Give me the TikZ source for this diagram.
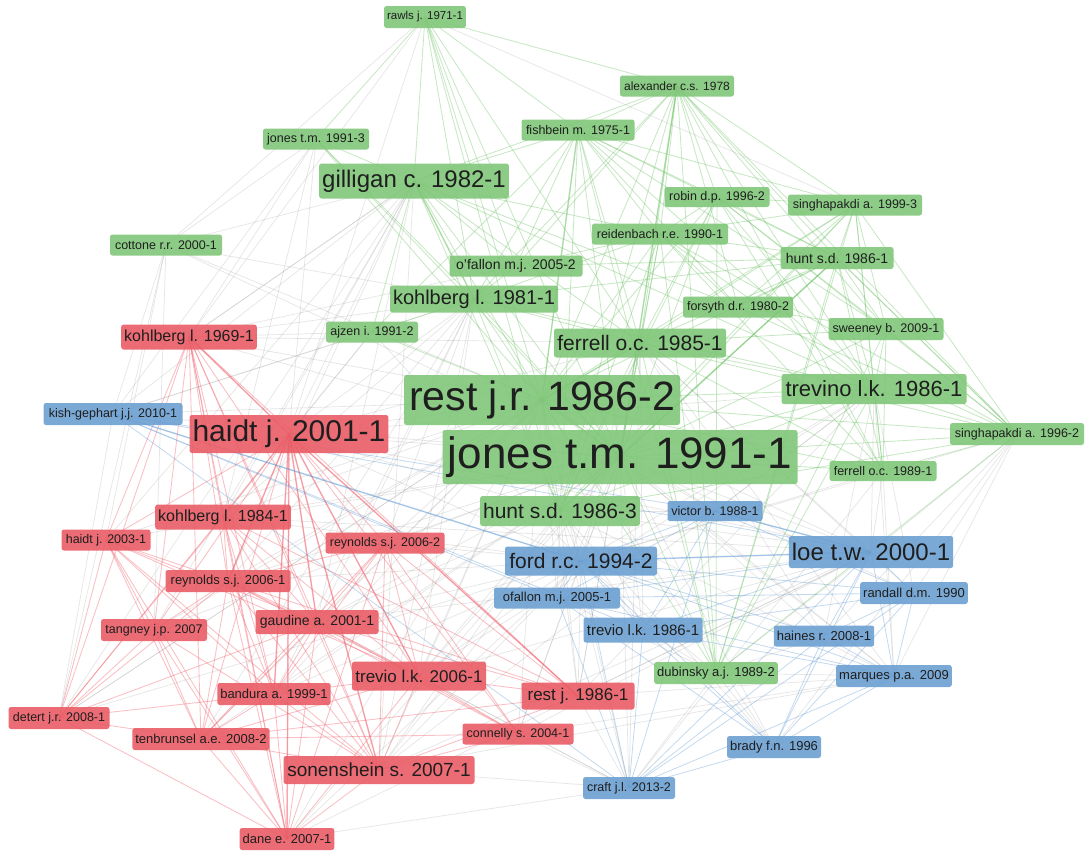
\documentclass[tikz,border=0pt]{standalone}
\usepackage{fontspec}
\setmainfont{Liberation Sans}
\usetikzlibrary{backgrounds}
\definecolor{gfill}{RGB}{128,199,121}
\definecolor{rfill}{RGB}{234,93,102}
\definecolor{bfill}{RGB}{108,160,210}
\definecolor{gline}{RGB}{112,196,104}
\definecolor{rline}{RGB}{240,96,108}
\definecolor{bline}{RGB}{88,148,210}
\definecolor{xline}{RGB}{140,140,140}
\definecolor{labtext}{RGB}{30,30,30}
\tikzset{
  box/.style={rounded corners=2.5pt, inner xsep=3pt, inner ysep=1pt, text=labtext, fill opacity=0.9, text opacity=1},
  gb/.style={box, fill=gfill},
  rb/.style={box, fill=rfill},
  bb/.style={box, fill=bfill},
  sz/.style n args={3}{font=\fontsize{#1}{#1}\selectfont, minimum width=#2, minimum height=#3},
  gedge/.style={draw=gline, line width=0.85pt, opacity=0.38},
  redge/.style={draw=rline, line width=0.85pt, opacity=0.4},
  bedge/.style={draw=bline, line width=0.8pt, opacity=0.35},
  xedge/.style={draw=xline, line width=0.7pt, opacity=0.22},
  heavy/.style={line width=1.5pt},
}
\begin{document}
\begin{tikzpicture}[x=1pt, y=-1pt]
\useasboundingbox (0,0) rectangle (1085,852);

% ---- green cluster ----
\node[gb, sz={11.5}{77}{22}] (rawls)  at (425,17)   {rawls j. 1971-1};
\node[gb, sz={12}{114}{21}]  (alex)   at (677,86)   {alexander c.s. 1978};
\node[gb, sz={12.5}{113}{21}](fish)   at (578,130)  {fishbein m. 1975-1};
\node[gb, sz={12.5}{106}{21}](jones3) at (316,139)  {jones t.m. 1991-3};
\node[gb, sz={24}{188}{35}]  (gill)   at (414,181)  {gilligan c. 1982-1};
\node[gb, sz={12.5}{105}{20}](robin)  at (717,197)  {robin d.p. 1996-2};
\node[gb, sz={12.5}{134}{21}](sing3)  at (855,205)  {singhapakdi a. 1999-3};
\node[gb, sz={12.5}{112}{21}](cott)   at (166,245)  {cottone r.r. 2000-1};
\node[gb, sz={12.5}{136}{21}](reid)   at (660,234)  {reidenbach r.e. 1990-1};
\node[gb, sz={14}{113}{22}]  (hunt1)  at (837,258)  {hunt s.d. 1986-1};
\node[gb, sz={14}{133}{21}]  (ofal2)  at (516,266)  {o'fallon m.j. 2005-2};
\node[gb, sz={20}{168}{27}]  (kohl81) at (474,299)  {kohlberg l. 1981-1};
\node[gb, sz={12.5}{110}{21}](fors)   at (738,307)  {forsyth d.r. 1980-2};
\node[gb, sz={12.5}{92}{21}] (ajzen)  at (372,332)  {ajzen i. 1991-2};
\node[gb, sz={12.5}{115}{22}](swee)   at (886,329)  {sweeney b. 2009-1};
\node[gb, sz={21}{172}{29}]  (ferr85) at (640,343)  {ferrell o.c. 1985-1};
\node[gb, sz={41}{276}{50}]  (rest2)  at (542,400)  {rest j.r. 1986-2};
\node[gb, sz={22}{185}{30}]  (trev86) at (874,389)  {trevino l.k. 1986-1};
\node[gb, sz={12.5}{134}{22}](sing2)  at (1017,434) {singhapakdi a. 1996-2};
\node[gb, sz={44}{355}{54}]  (jones1) at (620,457)  {jones t.m. 1991-1};
\node[gb, sz={12.5}{107}{20}](ferr89) at (883,471)  {ferrell o.c. 1989-1};
\node[gb, sz={21}{159}{30}]  (hunt3)  at (560,511)  {hunt s.d. 1986-3};
\node[gb, sz={13}{122}{22}]  (dub)    at (716,673)  {dubinsky a.j. 1989-2};

% ---- blue cluster ----
\node[bb, sz={12.5}{139}{22}](kish)   at (113,414)  {kish-gephart j.j. 2010-1};
\node[bb, sz={12.5}{95}{20}] (victor) at (715,511)  {victor b. 1988-1};
\node[bb, sz={24}{164}{32}]  (loe)    at (871,552)  {loe t.w. 2000-1};
\node[bb, sz={21}{152}{29}]  (ford)   at (581,561)  {ford r.c. 1994-2};
\node[bb, sz={13}{126}{21}]  (ofal1)  at (557,598)  {ofallon m.j. 2005-1};
\node[bb, sz={13}{106}{22}]  (randall)at (914,593)  {randall d.m. 1990};
\node[bb, sz={15}{119}{25}]  (trevb)  at (643,630)  {trevio l.k. 1986-1};
\node[bb, sz={13}{100}{21}]  (haines) at (824,636)  {haines r. 2008-1};
\node[bb, sz={13}{115}{22}]  (marques)at (894,676)  {marques p.a. 2009};
\node[bb, sz={13}{94}{22}]   (brady)  at (774,747)  {brady f.n. 1996};
\node[bb, sz={12.5}{92}{22}] (craft)  at (629,788)  {craft j.l. 2013-2};

% ---- red cluster ----
\node[rb, sz={16}{135}{25}]  (kohl69) at (189,337)  {kohlberg l. 1969-1};
\node[rb, sz={30}{198}{38}]  (haidt01)at (289,434)  {haidt j. 2001-1};
\node[rb, sz={16}{134}{25}]  (kohl84) at (223,517)  {kohlberg l. 1984-1};
\node[rb, sz={12.5}{89}{21}] (haidt03)at (106,540)  {haidt j. 2003-1};
\node[rb, sz={12.5}{119}{21}](reyn2)  at (385,543)  {reynolds s.j. 2006-2};
\node[rb, sz={13}{125}{22}]  (reyn1)  at (228,581)  {reynolds s.j. 2006-1};
\node[rb, sz={14}{123}{24}]  (gaud)   at (317,622)  {gaudine a. 2001-1};
\node[rb, sz={12.5}{106}{22}](tang)   at (154,630)  {tangney j.p. 2007};
\node[rb, sz={17}{134}{29}]  (trevr)  at (419,676)  {trevio l.k. 2006-1};
\node[rb, sz={13}{112}{22}]  (band)   at (274,694)  {bandura a. 1999-1};
\node[rb, sz={17}{113}{27}]  (restj)  at (578,696)  {rest j. 1986-1};
\node[rb, sz={12.5}{101}{22}](detert) at (59,718)   {detert j.r. 2008-1};
\node[rb, sz={13}{135}{22}]  (tenb)   at (201,739)  {tenbrunsel a.e. 2008-2};
\node[rb, sz={12.5}{111}{21}](conn)   at (518,734)  {connelly s. 2004-1};
\node[rb, sz={19}{191}{28}]  (sonen)  at (379,770)  {sonenshein s. 2007-1};
\node[rb, sz={13}{94}{22}]   (dane)   at (287,839)  {dane e. 2007-1};

\begin{scope}[on background layer]
\fill[white] (0,0) rectangle (1085,852);
% links between clusters
\foreach \h/\l in {
  rest2/{haidt01,kohl69,kohl84,reyn1,reyn2,gaud,sonen,trevr,band,ford,loe,ofal1,trevb,victor,craft,tang,tenb,restj,kish,haidt03,dane,conn,detert,brady,marques},
  jones1/{haidt01,kohl69,kohl84,reyn1,reyn2,gaud,sonen,trevr,band,ford,loe,ofal1,trevb,victor,craft,brady,marques,haines,randall,kish,restj,tenb,conn,dane,tang,haidt03},
  gill/{haidt01,kohl69,kohl84,reyn1,sonen,kish,cott,tang,haidt03,detert,gaud},
  kohl81/{haidt01,kohl69,kohl84,kish,reyn1,gaud,sonen,band,tenb,reyn2,trevr},
  hunt3/{ford,loe,ofal1,trevb,craft,victor,trevr,sonen,restj,marques,brady,gaud,haidt01},
  ferr85/{ford,loe,trevb,restj,craft,marques,randall,haines,ofal1,haidt01},
  trev86/{loe,ford,trevr,victor,haines,randall,marques,restj,sonen,haidt01},
  sing2/{loe,marques,randall,haines,brady,ford},
  cott/{jones1,rest2,kohl81,detert,tang,haidt03,kish},
  jones3/{haidt01,kohl69,kish,kohl84,cott},
  rawls/{haidt01,kohl69,sing3,cott},
  ajzen/{haidt01,kohl69,kish,ford,kohl84},
  kohl69/{gill,ofal2,ferr85},
  dane/{craft,loe,ford},
  detert/{ford,rest2,kish},
  loe/{restj,sonen,trevr,conn,haidt01,kohl84,gaud},
  ford/{haidt01,restj,sonen,trevr,gaud,reyn2,reyn1,kohl84,conn,band},
  craft/{sonen,trevr,restj,conn,gaud},
  marques/{sonen,restj,conn},
  ferr89/{loe,ford,marques,craft},
  dub/{craft,brady,marques,haines,ford,loe,trevb,ofal1}}
  {\foreach \t in \l {\draw[xedge] (\h.center) -- (\t.center);}}
% green cluster
\foreach \h/\l in {
  alex/{fish,robin,reid,hunt1,ferr85,rest2,jones1,trev86,hunt3,sing3,ferr89,dub,fors,ofal2,kohl81,sing2,swee,gill,rawls},
  fish/{gill,reid,hunt1,ferr85,rest2,jones1,trev86,hunt3,ajzen,kohl81,ofal2,sing3,robin,dub,fors,swee},
  rawls/{gill,kohl81,rest2,jones1,ofal2,fish,ferr85,hunt3,jones3},
  sing3/{hunt1,trev86,sing2,jones1,rest2,ferr85,swee,ferr89,robin,reid,dub,hunt3,fors},
  hunt1/{rest2,jones1,ferr85,trev86,sing2,swee,ferr89,reid,robin,hunt3,dub,fors,kohl81,ofal2},
  sing2/{trev86,jones1,swee,ferr89,rest2,hunt1,robin,reid,ferr85,hunt3,dub,fors},
  robin/{rest2,jones1,ferr85,reid,trev86,hunt3,dub,swee,ferr89},
  reid/{rest2,jones1,ferr85,trev86,hunt3,dub,fors,ofal2,kohl81,ferr89},
  gill/{kohl81,rest2,jones1,ofal2,ferr85,hunt3,trev86,ajzen,reid,fors,jones3},
  jones3/{rest2,jones1,kohl81},
  kohl81/{rest2,jones1,ferr85,hunt3,ajzen,ofal2,trev86},
  ferr85/{rest2,jones1,trev86,hunt3,dub,ferr89,swee},
  rest2/{jones1,trev86,hunt3,dub,ferr89,ajzen},
  trev86/{jones1,hunt3,swee,ferr89,dub},
  jones1/{hunt3,dub,ferr89,swee},
  swee/{ferr89,dub,fors}}
  {\foreach \t in \l {\draw[gedge] (\h.center) -- (\t.center);}}
% strongest green links
\foreach \h/\t in {rest2/jones1, gill/kohl81, fish/rest2, alex/jones1, hunt1/jones1, rest2/ferr85}
  {\draw[gedge, heavy] (\h.center) -- (\t.center);}
% red cluster
\foreach \h/\l in {
  haidt01/{kohl69,kohl84,haidt03,reyn1,reyn2,gaud,tang,trevr,band,restj,detert,tenb,conn,sonen,dane},
  kohl69/{kohl84,haidt03,reyn1,gaud,tang,trevr,band,sonen,dane,tenb,detert,restj},
  dane/{kohl84,reyn1,reyn2,gaud,tang,trevr,band,tenb,sonen,detert,haidt03},
  haidt03/{reyn1,gaud,tang,band,tenb,sonen,detert,trevr},
  sonen/{reyn1,reyn2,gaud,trevr,band,tenb,conn,restj,tang,kohl84},
  reyn2/{reyn1,gaud,trevr,band,tenb,conn,restj},
  reyn1/{gaud,trevr,band,tenb,conn,tang,restj},
  gaud/{trevr,band,tenb,conn,restj},
  trevr/{band,tenb,conn,restj},
  detert/{tang,band,tenb,kohl84,reyn1,gaud},
  tenb/{band,conn,restj,tang},
  kohl84/{reyn1,gaud,trevr,band,restj}}
  {\foreach \t in \l {\draw[redge] (\h.center) -- (\t.center);}}
% strongest red links
\foreach \h/\t in {haidt01/restj, haidt01/sonen, haidt01/trevr, haidt01/gaud, haidt01/reyn1, haidt01/kohl69, haidt01/band, haidt01/dane}
  {\draw[redge, heavy] (\h.center) -- (\t.center);}
% blue cluster
\foreach \h/\l in {
  kish/{ford,ofal1,loe,trevb,victor,craft},
  loe/{ford,victor,ofal1,trevb,randall,haines,marques,brady,craft},
  ford/{victor,ofal1,trevb,randall,haines,marques,brady,craft},
  craft/{ofal1,trevb,haines,marques,brady,randall,victor},
  brady/{randall,haines,marques,trevb,ofal1},
  marques/{randall,haines,trevb,ofal1},
  randall/{haines,trevb,ofal1,victor},
  victor/{ofal1,trevb}}
  {\foreach \t in \l {\draw[bedge] (\h.center) -- (\t.center);}}
% strongest blue links
\foreach \h/\t in {ford/loe, victor/loe, kish/ford}
  {\draw[bedge, heavy] (\h.center) -- (\t.center);}
\end{scope}
\end{tikzpicture}
\end{document}
